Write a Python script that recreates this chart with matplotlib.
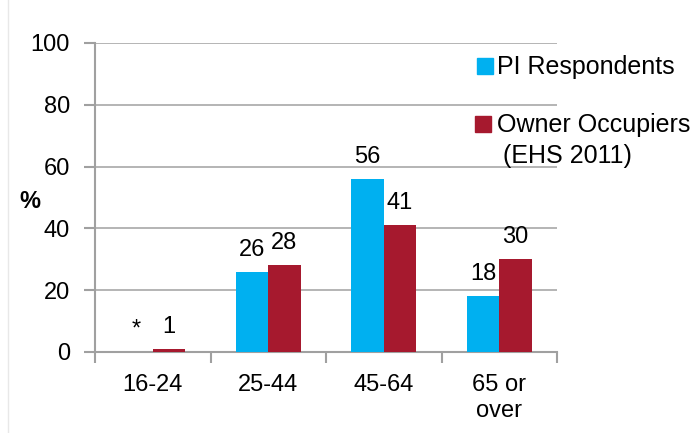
import numpy as np
import matplotlib.pyplot as plt
from matplotlib.patches import Rectangle
from matplotlib.lines import Line2D

plt.rcParams['font.family'] = ['Liberation Sans', 'DejaVu Sans']

categories = ['16-24', '25-44', '45-64', '65 or\nover']
pi_respondents = [0, 26, 56, 18]
owner_occupiers = [1, 28, 41, 30]
pi_labels = ['*', '26', '56', '18']
owner_labels = ['1', '28', '41', '30']

blue = '#00B0F0'
red = '#A6192E'
grey = '#A0A0A0'
fs = 17

fig = plt.figure(figsize=(6.96, 4.33), dpi=100)
ax = fig.add_axes([95 / 696, 81 / 433, 462 / 696, 309 / 433])

x = np.arange(len(categories))
w = 0.28
b1 = ax.bar(x - w / 2, pi_respondents, w, color=blue, zorder=3)
b2 = ax.bar(x + w / 2, owner_occupiers, w, color=red, zorder=3)
ax.bar_label(b1, labels=pi_labels, padding=8, fontsize=fs)
ax.bar_label(b2, labels=owner_labels, padding=8, fontsize=fs)

ax.set_ylim(0, 100)
ax.set_yticks(range(0, 101, 20))
ax.set_xlim(-0.5, len(categories) - 0.5)
ax.set_xticks(x)
ax.set_xticklabels(categories, fontsize=fs, linespacing=1.25)
ax.set_xticks(np.arange(-0.5, len(categories)), minor=True)
ax.tick_params(axis='x', which='major', length=0, pad=16)
ax.tick_params(axis='x', which='minor', length=8, color=grey, width=1.5)
ax.tick_params(axis='y', length=8, color=grey, width=1.5, labelsize=fs, pad=10)

ax.grid(axis='y', color=grey, linewidth=1.1, zorder=0)
for s in ['top', 'right']:
    ax.spines[s].set_visible(False)
for s in ['left', 'bottom']:
    ax.spines[s].set_color(grey)
    ax.spines[s].set_linewidth(1.5)

fig.text(30 / 696, 1 - 202 / 433, '%', fontsize=fs, fontweight='bold',
         ha='center', va='center')

# legend on the right, drawn by hand so the square sits on the first line
lfs = 18
fig.patches.append(Rectangle((477 / 696, 1 - 74 / 433), 16 / 696, 16 / 433,
                             color=blue, transform=fig.transFigure))
fig.text(497 / 696, 1 - 67 / 433, 'PI Respondents', fontsize=lfs, va='center')
fig.patches.append(Rectangle((475 / 696, 1 - 132 / 433), 16 / 696, 16 / 433,
                             color=red, transform=fig.transFigure))
fig.text(497 / 696, 1 - 125 / 433, 'Owner Occupiers', fontsize=lfs, va='center')
fig.text(503 / 696, 1 - 156 / 433, '(EHS 2011)', fontsize=lfs, va='center')

fig.add_artist(Line2D([8 / 696, 8 / 696], [0, 1], color='#E8E8E8', linewidth=1))

fig.savefig('out.png', dpi=100)
